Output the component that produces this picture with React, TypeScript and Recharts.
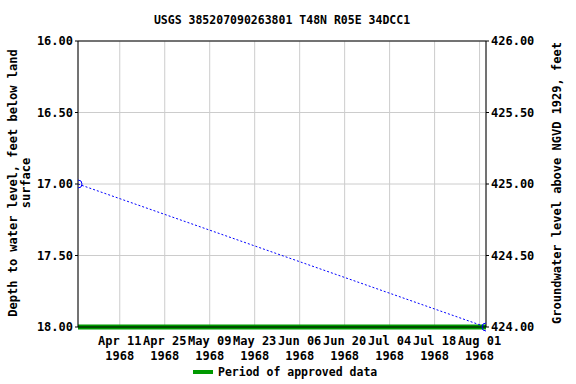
import React from "react";
import { LineChart, Line, XAxis, YAxis, CartesianGrid, ReferenceLine } from "recharts";

const title = "USGS 385207090263801 T48N R05E 34DCC1";

// measurement dates and depth below land surface (ft)
const measureDates = ["1968-03-29", "1968-08-03"];
const depthValues = [17.0, 18.0];

// approved-data period, drawn at the bottom of the chart
const approvedDates = ["1968-03-29", "1968-08-03"];
const approvedDepth = [18.0, 18.0];

const datumOffset = 442; // elevation = 442 - depth

const xTickDates = ["1968-04-11", "1968-04-25", "1968-05-09", "1968-05-23", "1968-06-06", "1968-06-20", "1968-07-04", "1968-07-18", "1968-08-01"];
const xTickLabels = ["Apr 11", "Apr 25", "May 09", "May 23", "Jun 06", "Jun 20", "Jul 04", "Jul 18", "Aug 01"];
const leftTicks = [16, 16.5, 17, 17.5, 18];
const rightTicks = [424, 424.5, 425, 425.5, 426];

const ts = (d: string) => Date.parse(d + "T00:00:00Z");

const FONT = "'DejaVu Sans Mono', monospace";

const measured = measureDates.map((d, i) => ({
  t: ts(d),
  depth: depthValues[i],
  elev: datumOffset - depthValues[i],
}));
const approved = approvedDates.map((d, i) => ({ t: ts(d), approved: approvedDepth[i] }));

const xTicks = xTickDates.map(ts);

function DateTick(props: any) {
  const { x, y, payload } = props;
  const i = xTicks.indexOf(payload.value);
  return (
    <text x={x} y={y} textAnchor="middle" fontFamily={FONT} fontWeight="bold" fontSize={12} fill="#000">
      <tspan x={x} dy={10}>{xTickLabels[i]}</tspan>
      <tspan x={x} dy={15}>1968</tspan>
    </text>
  );
}

function OpenDot(props: any) {
  const { cx, cy, index } = props;
  if (cx == null || cy == null) return null;
  return <circle key={"d" + index} cx={cx} cy={cy} r={4} fill="none" stroke="#0000ff" strokeWidth={1} />;
}

export default function App() {
  return (
    <div style={{ position: "absolute", left: 0, top: 0, width: 576, height: 384, background: "#fff", fontFamily: FONT }}>
      <div style={{ position: "absolute", left: 0, width: 564, top: 13, textAlign: "center", fontSize: 11.5, fontWeight: "bold" }}>
        {title}
      </div>
      <LineChart width={576} height={384} margin={{ top: 41, right: 0, bottom: 0, left: 0 }}>
        <CartesianGrid stroke="#cccccc" vertical horizontal yAxisId="left" />
        <XAxis
          dataKey="t"
          type="number"
          scale="time"
          domain={[ts("1968-03-29"), ts("1968-08-03")]}
          ticks={xTicks}
          interval={0}
          tick={<DateTick />}
          height={57}
          axisLine={{ stroke: "#000" }}
          tickLine={false}
          allowDataOverflow
        />
        <YAxis
          yAxisId="left"
          orientation="left"
          domain={[16, 18]}
          reversed
          ticks={leftTicks}
          interval={0}
          tickFormatter={(v: number) => v.toFixed(2)}
          width={78}
          tickSize={3}
          axisLine={{ stroke: "#000" }}
          tickLine={{ stroke: "#000" }}
          tick={{ fontFamily: FONT, fontWeight: "bold", fontSize: 12, fill: "#000" }}
        />
        <YAxis
          yAxisId="right"
          orientation="right"
          domain={[424, 426]}
          ticks={rightTicks}
          interval={0}
          tickFormatter={(v: number) => v.toFixed(2)}
          width={90}
          tickSize={3}
          axisLine={{ stroke: "#000" }}
          tickLine={{ stroke: "#000" }}
          tick={{ fontFamily: FONT, fontWeight: "bold", fontSize: 12, fill: "#000", textAnchor: "start" }}
        />
        <ReferenceLine yAxisId="left" y={16} stroke="#000" />
        <Line
          yAxisId="left"
          data={approved}
          dataKey="approved"
          stroke="#009900"
          strokeWidth={5}
          dot={false}
          isAnimationActive={false}
        />
        <Line
          yAxisId="left"
          data={measured}
          dataKey="depth"
          stroke="#0000ff"
          strokeWidth={1}
          strokeDasharray="2 2"
          dot={<OpenDot />}
          isAnimationActive={false}
        />
        <Line
          yAxisId="right"
          data={measured}
          dataKey="elev"
          stroke="none"
          dot={false}
          isAnimationActive={false}
        />
        <text
          transform="translate(13,183) rotate(-90)"
          textAnchor="middle"
          fontFamily={FONT}
          fontWeight="bold"
          fontSize={12}
        >
          <tspan x={0} dy={4}>Depth to water level, feet below land</tspan>
          <tspan x={0} dy={13}>surface</tspan>
        </text>
        <text
          transform="translate(557,183) rotate(-90)"
          textAnchor="middle"
          fontFamily={FONT}
          fontWeight="bold"
          fontSize={12}
          dy={4}
        >
          Groundwater level above NGVD 1929, feet
        </text>
      </LineChart>
      <div style={{ position: "absolute", left: 193, top: 365, display: "flex", alignItems: "center", fontSize: 11.5, fontWeight: "bold" }}>
        <span style={{ display: "inline-block", width: 20, height: 4, background: "#009900", marginRight: 5 }} />
        Period of approved data
      </div>
    </div>
  );
}
